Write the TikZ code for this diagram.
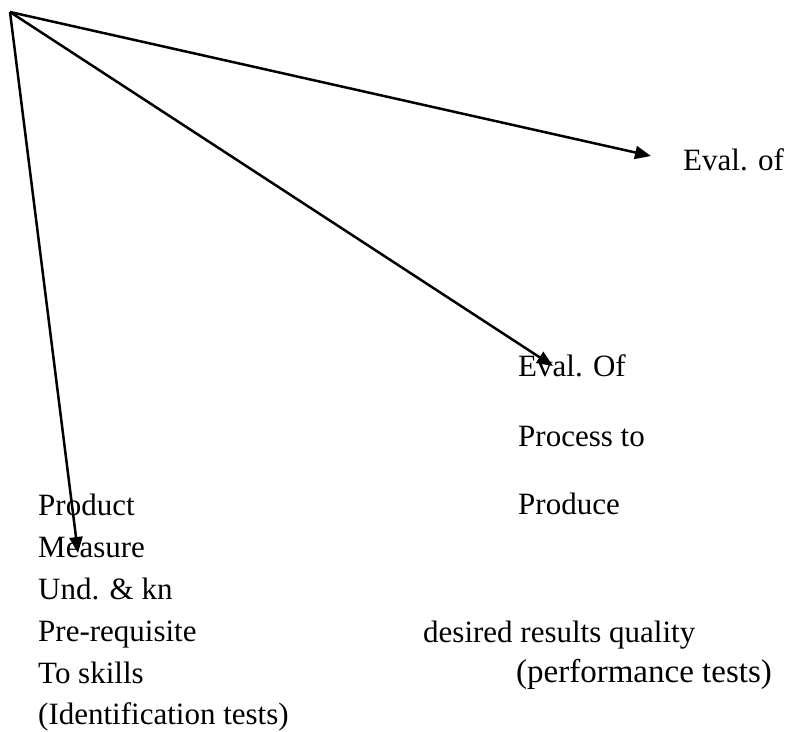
\documentclass[tikz,border=0pt]{standalone}
\usepackage{fontspec}
\setmainfont{Liberation Serif}
\usetikzlibrary{arrows.meta}
\begin{document}
\begin{tikzpicture}[x=1pt,y=-1pt,
  lbl/.style={anchor=base west,inner sep=0pt,font=\fontsize{31}{36}\selectfont},
  arr/.style={line width=2.5pt,-{Triangle[length=16pt,width=13pt]}}]
\useasboundingbox (0,0) rectangle (787,731);
\coordinate (o) at (10,12);
\coordinate (t1) at (651,156);
\coordinate (t2) at (553,366);
\coordinate (t3) at (78,553);
\node[lbl] (e1) at (683,170) {Eval. of};
\node[lbl] (e2) at (518,376) {Eval. Of};
\node[lbl] (p1) at (518,446) {Process to};
\node[lbl] (p2) at (518,514) {Produce};
\node[lbl] (l1) at (38,515) {Product};
\node[lbl] (l2) at (38,557) {Measure};
\node[lbl] (l3) at (38,599) {Und. \& kn};
\node[lbl] (l4) at (38,641) {Pre-requisite};
\node[lbl] (l5) at (38,683) {To skills};
\node[lbl] (l6) at (38,724) {(Identification tests)};
\node[lbl] (r1) at (423,642) {desired results quality};
\node[lbl,font=\fontsize{33}{38}\selectfont] (r2) at (516,682) {(performance tests)};
\draw[arr] (o) -- (t1);
\draw[arr] (o) -- (t2);
\draw[arr] (o) -- (t3);
\end{tikzpicture}
\end{document}
